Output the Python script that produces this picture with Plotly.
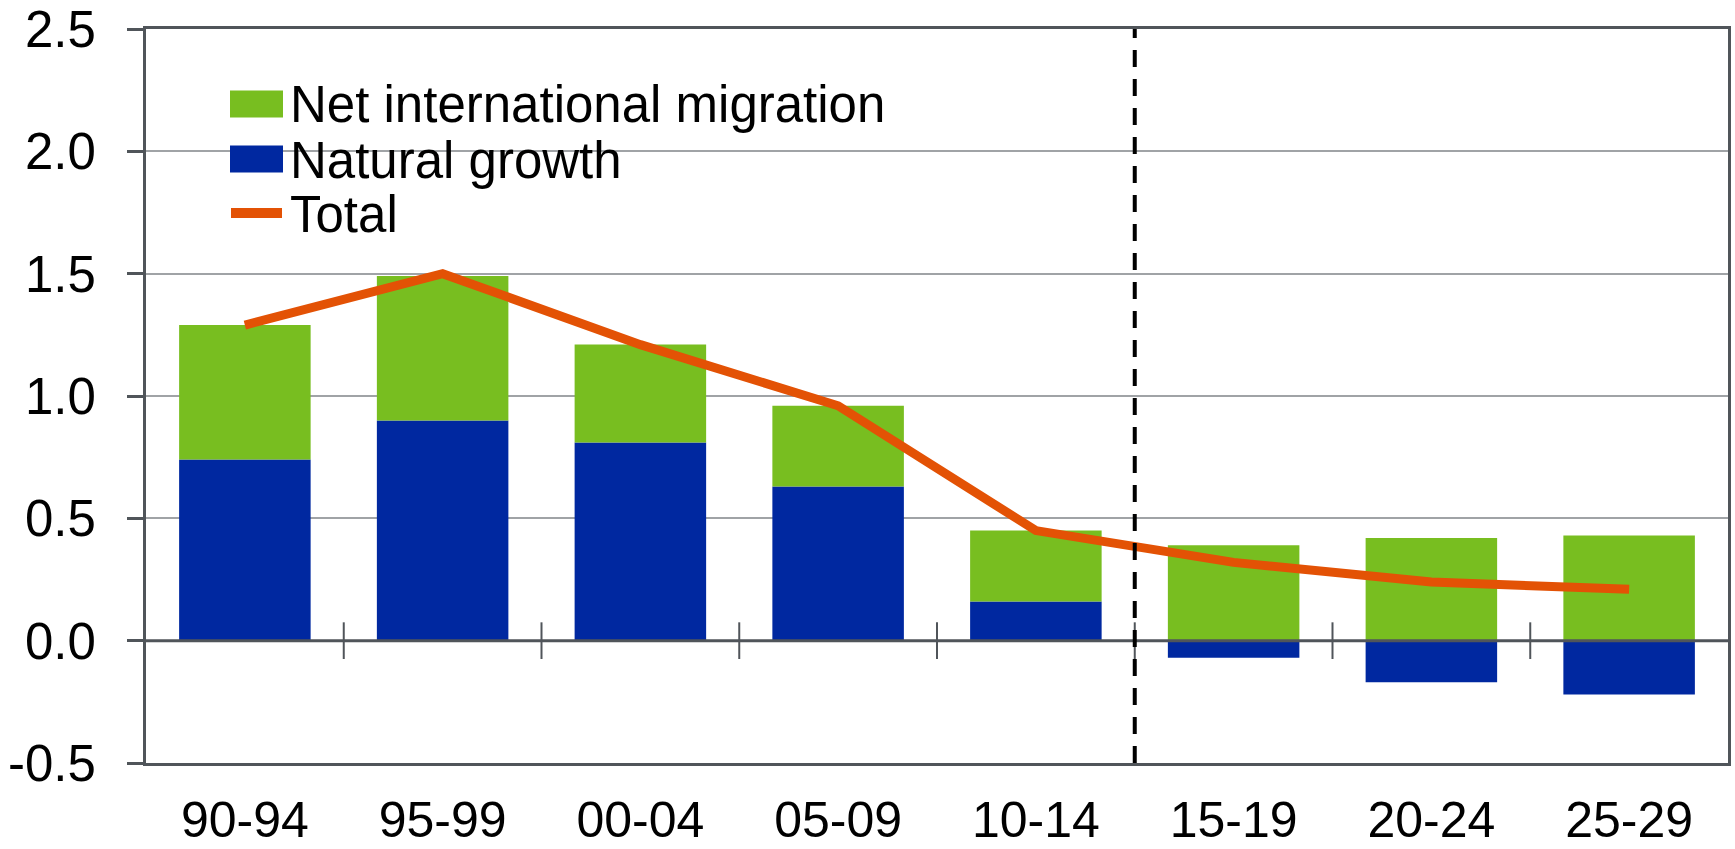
import plotly.graph_objects as go

# data (percent per year)
periods = ["90-94", "95-99", "00-04", "05-09", "10-14", "15-19", "20-24", "25-29"]
natural_growth = [0.74, 0.90, 0.81, 0.63, 0.16, -0.07, -0.17, -0.22]
net_migration = [0.55, 0.59, 0.40, 0.33, 0.29, 0.39, 0.42, 0.43]
total = [1.29, 1.50, 1.21, 0.96, 0.45, 0.32, 0.24, 0.21]
y_ticks = [-0.5, 0.0, 0.5, 1.0, 1.5, 2.0, 2.5]
y_labels = ["-0.5", "0.0", "0.5", "1.0", "1.5", "2.0", "2.5"]
projection_start = 5  # index of the first projected period

GREEN = "#78BE20"
BLUE = "#0028A0"
ORANGE = "#E35205"
AXIS = "#50555A"
GRID = "#A0A3A6"
FONT = "Liberation Sans, Arial, sans-serif"

W, H = 1735, 849
M = dict(l=146, r=7, t=29, b=86)

fig = go.Figure()

fig.add_trace(go.Bar(x=periods, y=natural_growth, name="Natural growth",
                     marker=dict(color=BLUE, line=dict(width=0))))
fig.add_trace(go.Bar(x=periods, y=net_migration, name="Net international migration",
                     marker=dict(color=GREEN, line=dict(width=0))))
fig.add_trace(go.Scatter(x=periods, y=total, name="Total", mode="lines",
                         line=dict(color=ORANGE, width=9)))

# zero line and the little ticks between categories
fig.add_shape(type="line", xref="paper", yref="y", x0=0, x1=1, y0=0, y1=0,
              line=dict(color=AXIS, width=3), layer="above")
for i in range(len(periods) - 1):
    fig.add_shape(type="line", xref="x", yref="y", x0=i + 0.5, x1=i + 0.5,
                  y0=-0.075, y1=0.075, line=dict(color=AXIS, width=2), layer="above")

# dashed divider between history and projection
fig.add_shape(type="line", xref="x", yref="paper",
              x0=projection_start - 0.5, x1=projection_start - 0.5, y0=0, y1=1,
              line=dict(color="black", width=4, dash="17px,12px"), layer="above")

# hand-drawn legend (bigger swatches than plotly's own legend)
pw = W - M["l"] - M["r"]
ph = H - M["t"] - M["b"]


def px(x):
    return (x - M["l"]) / pw


def py(y):
    return (H - M["b"] - y) / ph


fig.add_shape(type="rect", xref="paper", yref="paper",
              x0=px(219), x1=px(920), y0=py(242), y1=py(72),
              fillcolor="white", line=dict(width=0), layer="between")

legend_rows = [("Net international migration", GREEN, "box", 104),
               ("Natural growth", BLUE, "box", 159),
               ("Total", ORANGE, "line", 214)]
for label, color, kind, yc in legend_rows:
    if kind == "box":
        fig.add_shape(type="rect", xref="paper", yref="paper",
                      x0=px(230), x1=px(283), y0=py(yc + 13.5), y1=py(yc - 13.5),
                      fillcolor=color, line=dict(width=0), layer="above")
    else:
        fig.add_shape(type="line", xref="paper", yref="paper",
                      x0=px(231), x1=px(282), y0=py(yc - 1), y1=py(yc - 1),
                      line=dict(color=color, width=10), layer="above")
    fig.add_annotation(xref="paper", yref="paper", x=px(288), y=py(yc + 1),
                       text=label, showarrow=False, xanchor="left", yanchor="middle",
                       font=dict(family=FONT, size=51, color="black"))

fig.update_layout(
    width=W, height=H,
    margin=M,
    barmode="relative",
    bargap=0.335,
    plot_bgcolor="white",
    paper_bgcolor="white",
    showlegend=False,
    font=dict(family=FONT, size=51, color="black"),
    xaxis=dict(
        type="category",
        range=[-0.5, len(periods) - 0.5],
        automargin=False,
        showline=True, mirror=True, linecolor=AXIS, linewidth=3,
        showgrid=False, ticks="", ticklabelstandoff=11,
        tickfont=dict(family=FONT, size=50, color="black"),
    ),
    yaxis=dict(
        range=[-0.5, 2.5],
        tickvals=y_ticks,
        ticktext=y_labels,
        automargin=False,
        showline=True, mirror=True, linecolor=AXIS, linewidth=3,
        showgrid=True, gridcolor=GRID, gridwidth=2,
        zeroline=False,
        ticks="outside", ticklen=16, tickwidth=3, tickcolor=AXIS,
        ticklabelstandoff=21,
        tickfont=dict(family=FONT, size=51, color="black"),
    ),
)

# drop the browser's default 8px body margin so the figure fills the window
fig.write_html("out.html", config={"displayModeBar": False},
               post_script="document.body.style.margin='0';")
